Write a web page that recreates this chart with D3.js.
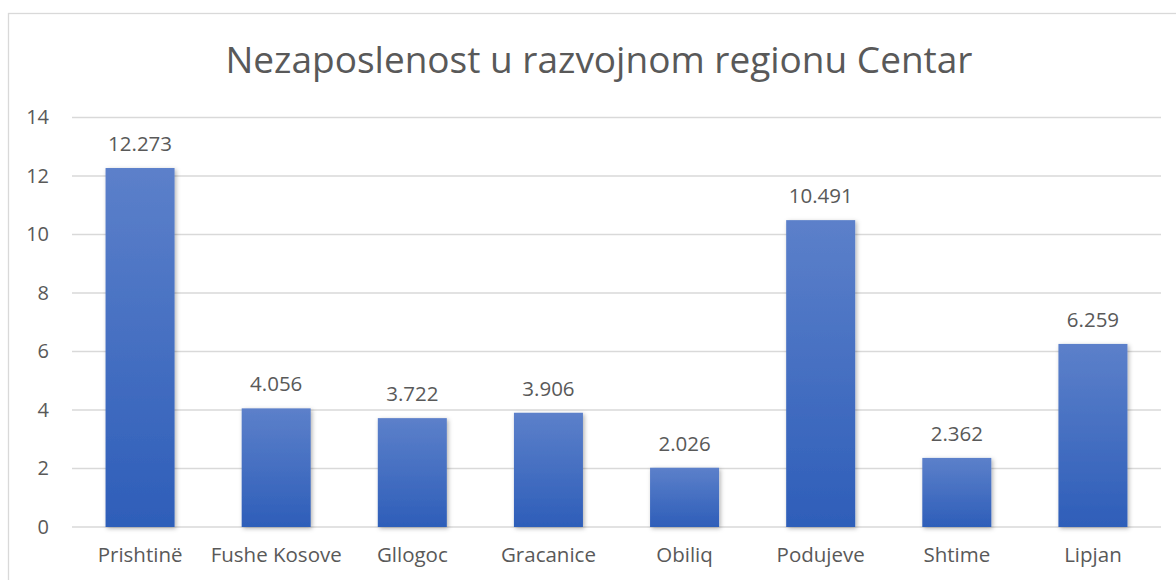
<!DOCTYPE html>
<html>
<head>
<meta charset="utf-8">
<script src="https://cdn.jsdelivr.net/npm/d3@7"></script>
<style>
  body { margin: 0; background: #fff; }
  text { font-family: "Open Sans", "Noto Sans", sans-serif; fill: #595959; }
</style>
</head>
<body>
<script>
// data
var categories = ["Prishtinë", "Fushe Kosove", "Gllogoc", "Gracanice", "Obiliq", "Podujeve", "Shtime", "Lipjan"];
var values = [12.273, 4.056, 3.722, 3.906, 2.026, 10.491, 2.362, 6.259];
var labels = ["12.273", "4.056", "3.722", "3.906", "2.026", "10.491", "2.362", "6.259"];
var yTicks = [0, 2, 4, 6, 8, 10, 12, 14];
var title = "Nezaposlenost u razvojnom regionu Centar";

var width = 1176, height = 580;
var margin = {left: 72, right: 15, top: 117.5, bottom: 53};

var svg = d3.select("body").append("svg")
    .attr("width", width)
    .attr("height", height);

var defs = svg.append("defs");
var grad = defs.append("linearGradient")
    .attr("id", "barGrad")
    .attr("x1", 0).attr("y1", 0).attr("x2", 0).attr("y2", 1);
grad.append("stop").attr("offset", "0%").attr("stop-color", "#5c80ca");
grad.append("stop").attr("offset", "100%").attr("stop-color", "#2e5eb9");

var shadow = defs.append("filter")
    .attr("id", "shadow")
    .attr("x", "-20%").attr("y", "-20%").attr("width", "140%").attr("height", "140%");
shadow.append("feDropShadow")
    .attr("dx", 1.5).attr("dy", 1.5)
    .attr("stdDeviation", 2)
    .attr("flood-color", "#000")
    .attr("flood-opacity", 0.3);

// outer frame (cut off at right and bottom like the screenshot)
svg.append("rect")
    .attr("x", 8.5).attr("y", 13.5)
    .attr("width", 1300).attr("height", 700)
    .attr("fill", "none")
    .attr("stroke", "#d9d9d9")
    .attr("stroke-width", 1.3);

var x = d3.scaleBand()
    .domain(categories)
    .range([margin.left, width - margin.right])
    .paddingInner(0.493)
    .paddingOuter(0.2465);

var y = d3.scaleLinear()
    .domain([0, 14])
    .range([height - margin.bottom, margin.top]);

// gridlines
svg.append("g")
  .selectAll("line")
  .data(yTicks)
  .enter()
  .append("line")
    .attr("x1", margin.left)
    .attr("x2", width - margin.right)
    .attr("y1", function(d){ return y(d); })
    .attr("y2", function(d){ return y(d); })
    .attr("stroke", "#d9d9d9")
    .attr("stroke-width", 1.3);

// y axis labels
var yAxis = svg.append("g")
    .attr("transform", "translate(" + (margin.left - 23) + ",0)")
    .call(d3.axisLeft(y).tickValues(yTicks).tickSize(0).tickPadding(0));
yAxis.select(".domain").remove();
yAxis.selectAll("text")
    .attr("font-family", null)
    .style("font-size", "20px")
    .attr("fill", "#595959");

// bars
var data = categories.map(function(c, i){ return {cat: c, v: values[i], label: labels[i]}; });

svg.append("g")
  .selectAll("rect")
  .data(data)
  .enter()
  .append("rect")
    .attr("x", function(d){ return x(d.cat); })
    .attr("y", function(d){ return y(d.v); })
    .attr("width", x.bandwidth())
    .attr("height", function(d){ return y(0) - y(d.v); })
    .attr("fill", "url(#barGrad)")
    .attr("filter", "url(#shadow)");

// value labels
svg.append("g")
  .selectAll("text")
  .data(data)
  .enter()
  .append("text")
    .attr("x", function(d){ return x(d.cat) + x.bandwidth() / 2; })
    .attr("y", function(d){ return y(d.v) - 17; })
    .attr("text-anchor", "middle")
    .style("font-size", "20.5px")
    .attr("fill", "#404040")
    .text(function(d){ return d.label; });

// x axis labels
var xAxis = svg.append("g")
    .attr("transform", "translate(0," + y(0) + ")")
    .call(d3.axisBottom(x).tickSize(0).tickPadding(20));
xAxis.select(".domain").remove();
xAxis.selectAll("text")
    .attr("font-family", null)
    .style("font-size", "20.5px")
    .attr("fill", "#595959");

// title
svg.append("text")
    .attr("x", 599)
    .attr("y", 73)
    .attr("text-anchor", "middle")
    .style("font-size", "37px")
    .attr("fill", "#595959")
    .text(title);
</script>
</body>
</html>
